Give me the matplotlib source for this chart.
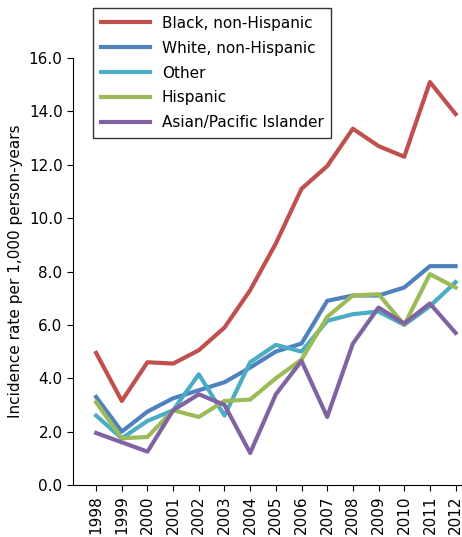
import matplotlib
matplotlib.use("Agg")
import matplotlib.pyplot as plt

years = list(range(1998, 2013))
black = [4.95, 3.15, 4.6, 4.55, 5.05, 5.9, 7.3, 9.05, 11.1, 11.95, 13.35, 12.7, 12.3, 15.1, 13.9]
white = [3.3, 2.0, 2.75, 3.25, 3.55, 3.85, 4.4, 5.0, 5.3, 6.9, 7.1, 7.1, 7.4, 8.2, 8.2]
other = [2.6, 1.75, 2.4, 2.8, 4.15, 2.6, 4.6, 5.25, 5.0, 6.15, 6.4, 6.5, 6.0, 6.7, 7.6]
hisp = [3.1, 1.75, 1.8, 2.8, 2.55, 3.15, 3.2, 4.0, 4.7, 6.3, 7.1, 7.15, 6.0, 7.9, 7.4]
asian = [1.95, 1.6, 1.25, 2.8, 3.4, 3.0, 1.2, 3.4, 4.65, 2.55, 5.3, 6.65, 6.05, 6.8, 5.7]
labels = ["Black, non-Hispanic", "White, non-Hispanic", "Other", "Hispanic", "Asian/Pacific Islander"]
colors = ["#C0504D", "#4F81BD", "#4BACC6", "#9BBB59", "#8064A2"]

fig = plt.figure(figsize=(4.62, 5.37), dpi=100)
ax = fig.add_axes([73/462, 1-485/537, (462-73)/462, (485-58)/537])
for s, l, c in zip([black, white, other, hisp, asian], labels, colors):
    ax.plot(years, s, color=c, lw=3, label=l)
ax.set_xlim(1997.1, 2012.25)
ax.set_ylim(0, 16)
ax.set_yticks([i*2 for i in range(9)])
ax.set_yticklabels([f"{i*2:.1f}" for i in range(9)], fontsize=11)
ax.set_xticks(years)
ax.set_xticklabels([str(y) for y in years], rotation=90, fontsize=11)
ax.spines['top'].set_visible(False)
ax.spines['right'].set_visible(False)
ax.tick_params(direction='out', length=4)
ax.set_ylabel("Incidence rate per 1,000 person-years", fontsize=11)
leg = fig.legend(loc='upper left', bbox_to_anchor=(93/462, 1-8/537), fontsize=11,
                 frameon=True, fancybox=False, edgecolor='black', handlelength=3.2,
                 borderaxespad=0, labelspacing=0.65, borderpad=0.5)
leg.get_frame().set_linewidth(1)
fig.savefig("out.png", dpi=100)
